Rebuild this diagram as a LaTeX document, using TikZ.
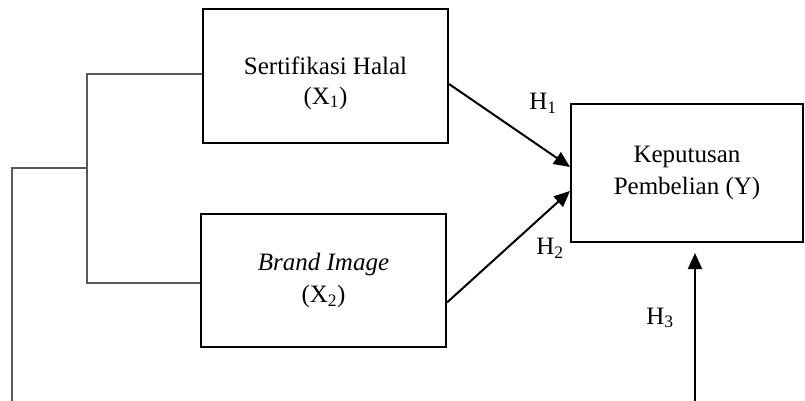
\documentclass[tikz,border=0pt]{standalone}
\usepackage{fontspec}
\setmainfont{Liberation Serif}
\usetikzlibrary{arrows.meta,calc}
\begin{document}
\begin{tikzpicture}[x=1pt,y=1pt,
  box/.style={draw=black,line width=2pt,minimum width=245pt,minimum height=134pt,align=center,inner sep=0pt,font=\fontsize{25}{32}\selectfont},
  txt/.style={align=center,inner sep=0pt,font=\fontsize{25}{30}\selectfont},
  thin/.style={draw=black!65,line width=1.2pt},
  arr/.style={draw=black,line width=2pt,-{Triangle[length=16pt,width=14pt]}},
  lab/.style={font=\fontsize{25}{30}\selectfont,inner sep=0pt}]
\useasboundingbox (0,0) rectangle (805,-401);
\node[box] (b1) at (325.5,-76) {};
\node[txt] (b1t) at ([yshift=-7pt]b1.center) {Sertifikasi Halal\\(X\textsubscript{1})};
\node[box,minimum height=133pt] (b2) at (323.5,-280.5) {\textit{Brand Image}\\(X\textsubscript{2})};
\node[box,minimum width=232pt,minimum height=138pt] (b3) at (687,-173) {Keputusan\\Pembelian (Y)};
\coordinate (j1) at (87,-74);
\coordinate (j2) at (87,-283);
\coordinate (jm) at (87,-168);
\coordinate (o1) at (12,-168);
\coordinate (o2) at (12,-401);
\draw[thin] (b1.west |- j1) -- (j1) -- (j2) -- (b2.west |- j2);
\draw[thin] (jm) -- (o1) -- (o2);
\coordinate (h3s) at (695,-401);
\coordinate (h3e) at (695,-253);
\draw[arr] ([yshift=-8pt]b1.east) -- ([yshift=6pt]b3.west);
\draw[arr] ([yshift=-22pt]b2.east) -- ([yshift=-18pt]b3.west);
\draw[arr] (h3s) -- (h3e);
\node[lab] (H1) at (543,-103) {H\textsubscript{1}};
\node[lab] (H2) at (550,-248) {H\textsubscript{2}};
\node[lab] (H3) at (660,-318) {H\textsubscript{3}};
\end{tikzpicture}
\end{document}
